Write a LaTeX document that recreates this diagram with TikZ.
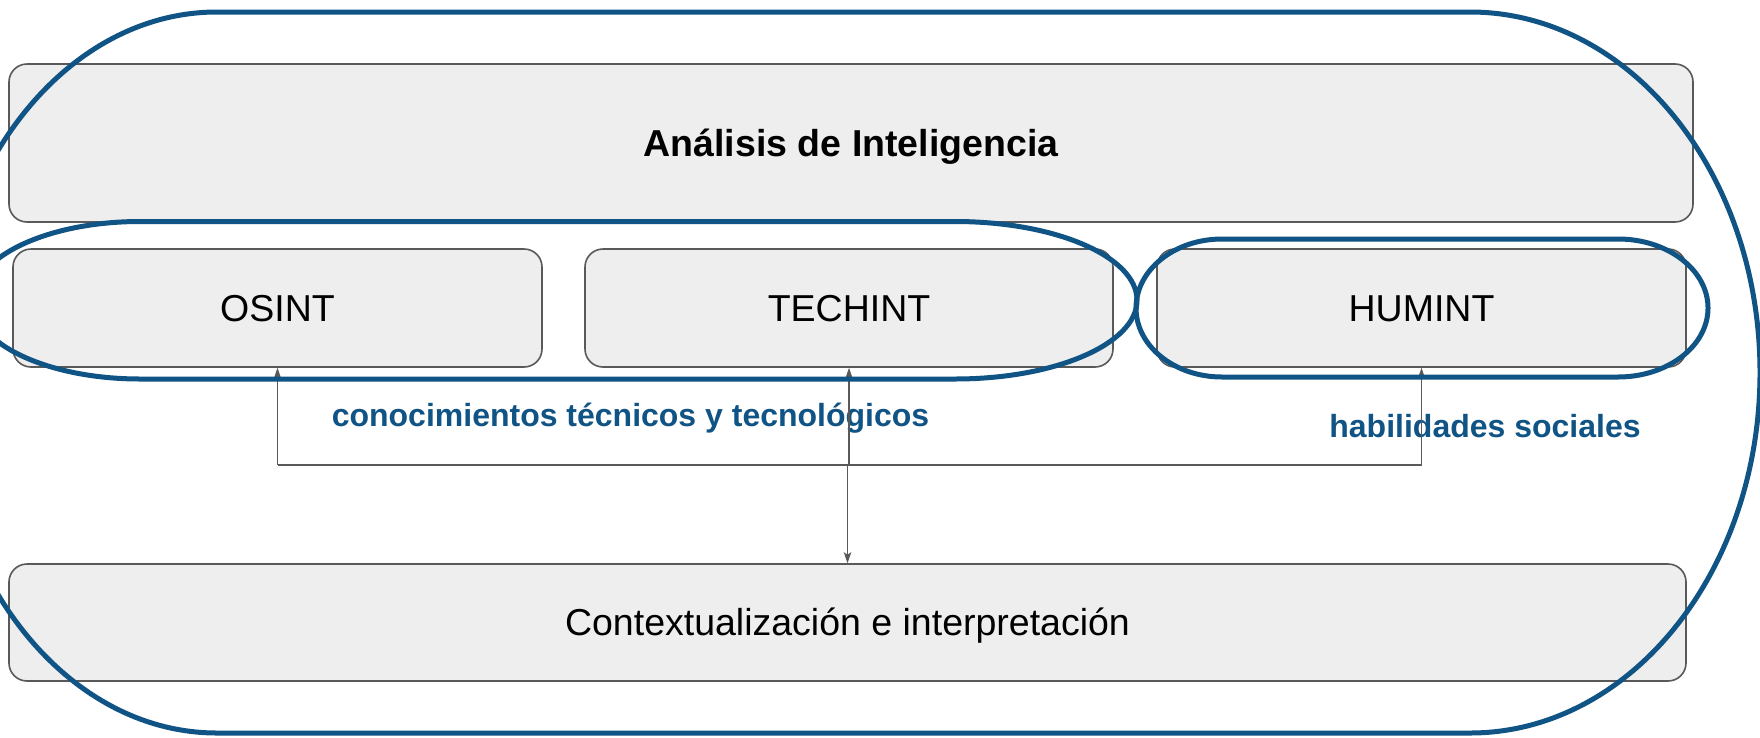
\documentclass[tikz,border=0pt]{standalone}
\usepackage{fontspec}
\setmainfont{Liberation Sans}
\usetikzlibrary{arrows.meta}
\definecolor{hlblue}{RGB}{16,83,133}
\definecolor{boxfill}{RGB}{238,238,238}
\definecolor{boxline}{RGB}{89,89,89}
\definecolor{connline}{RGB}{89,89,89}
\tikzset{
  box/.style={draw=boxline, fill=boxfill, line width=1.6pt, rounded corners=18pt,
    inner sep=0pt, text height=26.8pt, text depth=0pt,
    font=\fontsize{37.5}{45}\selectfont},
  titlebox/.style={box, font=\bfseries\fontsize{37.5}{45}\selectfont},
  lbl/.style={text=hlblue, inner sep=0pt, font=\bfseries\fontsize{32}{38}\selectfont},
  conn/.style={draw=connline, line width=1.3pt},
  arr/.style={conn, -{Stealth[length=11pt,width=7.5pt,inset=2.5pt]}},
  blueline/.style={draw=hlblue, line width=5pt}
}
\begin{document}
\begin{tikzpicture}[x=1pt,y=-1pt]
\useasboundingbox (0,0) rectangle (1760,737);
\fill[white] (0,0) rectangle (1760,737);
\clip (0,0) rectangle (1760,737);

% boxes
\node[titlebox, minimum width=1684pt, minimum height=158pt] (top) at (851,143) {Análisis de Inteligencia};
\node[box, minimum width=529pt, minimum height=118pt] (osint) at (277.5,308) {OSINT};
\node[box, minimum width=528pt, minimum height=118pt] (techint) at (849,308) {TECHINT};
\node[box, minimum width=529pt, minimum height=118pt] (humint) at (1421.5,308) {HUMINT};
\node[box, minimum width=1677pt, minimum height=117pt] (ctx) at (847.5,622.5) {Contextualización e interpretación};

% labels
\node[lbl, anchor=base] (tech) at (630.5,426) {conocimientos técnicos y tecnológicos};
\node[lbl, anchor=base] (soc) at (1485,437) {habilidades sociales};

% connectors
\coordinate (bus) at (0,465);
\draw[conn] (osint.south |- bus) -- (humint.south |- bus);
\draw[arr] (osint.south |- bus) -- (osint.south);
\draw[arr] (techint.south |- bus) -- (techint.south);
\draw[arr] (humint.south |- bus) -- (humint.south);
\draw[arr] (ctx.north |- bus) -- (ctx.north);

% blue outlines
\draw[blueline] (217,12) -- (1470,12)
  .. controls (1630.2,12) and (1760,173.4) .. (1760,372.5)
  .. controls (1760,571.6) and (1630.2,733) .. (1470,733)
  -- (217,733)
  .. controls (63.5,733) and (-61,571.6) .. (-61,372.5)
  .. controls (-61,173.4) and (63.5,12) .. (217,12) -- cycle;

\draw[blueline] (140,221.5) -- (955,221.5)
  .. controls (1055.5,221.5) and (1137,256.75) .. (1137,300.25)
  .. controls (1137,343.75) and (1055.5,379) .. (955,379)
  -- (140,379)
  .. controls (47.8,379) and (-27,343.75) .. (-27,300.25)
  .. controls (-27,256.75) and (47.8,221.5) .. (140,221.5) -- cycle;

\draw[blueline] (1222,239) -- (1618,239)
  .. controls (1667.7,239) and (1708,269.9) .. (1708,308)
  .. controls (1708,346.1) and (1667.7,377) .. (1618,377)
  -- (1222,377)
  .. controls (1174.5,377) and (1136,346.1) .. (1136,308)
  .. controls (1136,269.9) and (1174.5,239) .. (1222,239) -- cycle;
\end{tikzpicture}
\end{document}
